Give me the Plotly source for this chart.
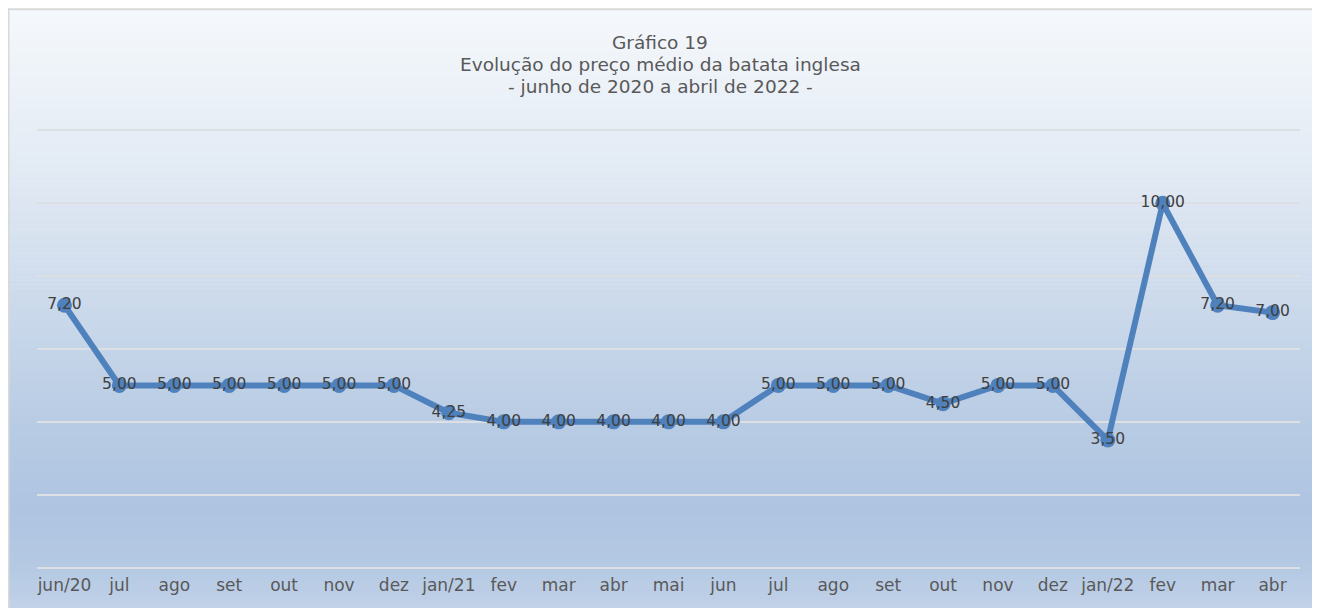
import plotly.graph_objects as go

months = ["jun/20", "jul", "ago", "set", "out", "nov", "dez", "jan/21", "fev", "mar", "abr", "mai",
          "jun", "jul", "ago", "set", "out", "nov", "dez", "jan/22", "fev", "mar", "abr"]
prices = [7.20, 5.00, 5.00, 5.00, 5.00, 5.00, 5.00, 4.25, 4.00, 4.00, 4.00, 4.00,
          4.00, 5.00, 5.00, 5.00, 4.50, 5.00, 5.00, 3.50, 10.00, 7.20, 7.00]
labels = [f"{v:.2f}".replace(".", ",") for v in prices]
title_lines = ["Gráfico 19", "Evolução do preço médio da batata inglesa", "- junho de 2020 a abril de 2022 -"]
xpos = list(range(len(months)))

W, H = 1320, 608
OFF = 8  # page body margin
YMIN, YMAX = -0.15, 12.15
PPU = (568 - 130) / 12.0  # screen pixels per unit
SL, SR = 37, 1300
ST = 130 - (YMAX - 12) * PPU
SB = 568 + (0 - YMIN) * PPU
L, R, T, B = SL - OFF, SR - OFF, ST - OFF, SB - OFF

fig = go.Figure()
fig.add_trace(go.Scatter(
    x=xpos, y=prices, mode="lines+markers+text",
    line=dict(color="#4f81bd", width=6),
    marker=dict(color="#4f81bd", size=15),
    text=labels, textposition="middle center",
    textfont=dict(family="DejaVu Sans", size=15.5, color="#404040"),
    cliponaxis=False, hoverinfo="skip", showlegend=False,
))

# background gradient, defined in screen pixels
stops = [(0, (246, 249, 252)), (150, (229, 236, 245)), (300, (204, 218, 235)),
         (420, (185, 204, 228)), (510, (174, 196, 225)), (570, (181, 201, 227)), (620, (196, 212, 234))]

def col(py):
    for (y0, c0), (y1, c1) in zip(stops, stops[1:]):
        if y0 <= py <= y1:
            t = (py - y0) / (y1 - y0)
            return tuple(round(a + (b - a) * t) for a, b in zip(c0, c1))
    return stops[-1][1]

def fx(px):  # figure px -> paper x
    return (px - L) / (R - L)

def fy(py):  # figure px -> paper y
    return (B - py) / (B - T)

shapes = []
step = 4
for py in range(0, H, step):
    c = col(py + OFF + step / 2)
    shapes.append(dict(type="rect", xref="paper", yref="paper",
                       x0=fx(0), x1=fx(W), y0=fy(py + step + 0.5), y1=fy(py),
                       fillcolor=f"rgb{c}", line=dict(width=0), layer="below"))
# border
shapes.append(dict(type="line", xref="paper", yref="paper", x0=fx(0.5), x1=fx(0.5),
                   y0=fy(0), y1=fy(H), line=dict(color="#d9d9d9", width=2), layer="below"))
shapes.append(dict(type="line", xref="paper", yref="paper", x0=fx(0), x1=fx(W),
                   y0=fy(0.5), y1=fy(0.5), line=dict(color="#d9d9d9", width=2), layer="below"))

annotations = []
for i, line in enumerate(title_lines):
    annotations.append(dict(text=line, xref="paper", yref="paper",
                            x=fx(660 - OFF), y=fy(42 + 22 * i - OFF),
                            xanchor="center", yanchor="middle", showarrow=False,
                            font=dict(family="DejaVu Sans", size=18.5, color="#595959")))

fig.update_layout(
    width=W, height=H,
    margin=dict(l=L, r=W - R, t=T, b=H - B, pad=0),
    paper_bgcolor="white", plot_bgcolor="rgba(0,0,0,0)",
    shapes=shapes, annotations=annotations,
    xaxis=dict(tickmode="array", tickvals=xpos, ticktext=months, range=[-0.5, len(months) - 0.5],
               showgrid=False, zeroline=False, showline=False, ticks="",
               tickfont=dict(family="DejaVu Sans", size=17, color="#595959")),
    yaxis=dict(range=[YMIN, YMAX], tickmode="array", tickvals=[0, 2, 4, 6, 8, 10, 12],
               showgrid=True, gridcolor="#dcdfe3", gridwidth=2,
               zeroline=False, showticklabels=False, ticks="", showline=False),
)

fig.write_html("out.html")
